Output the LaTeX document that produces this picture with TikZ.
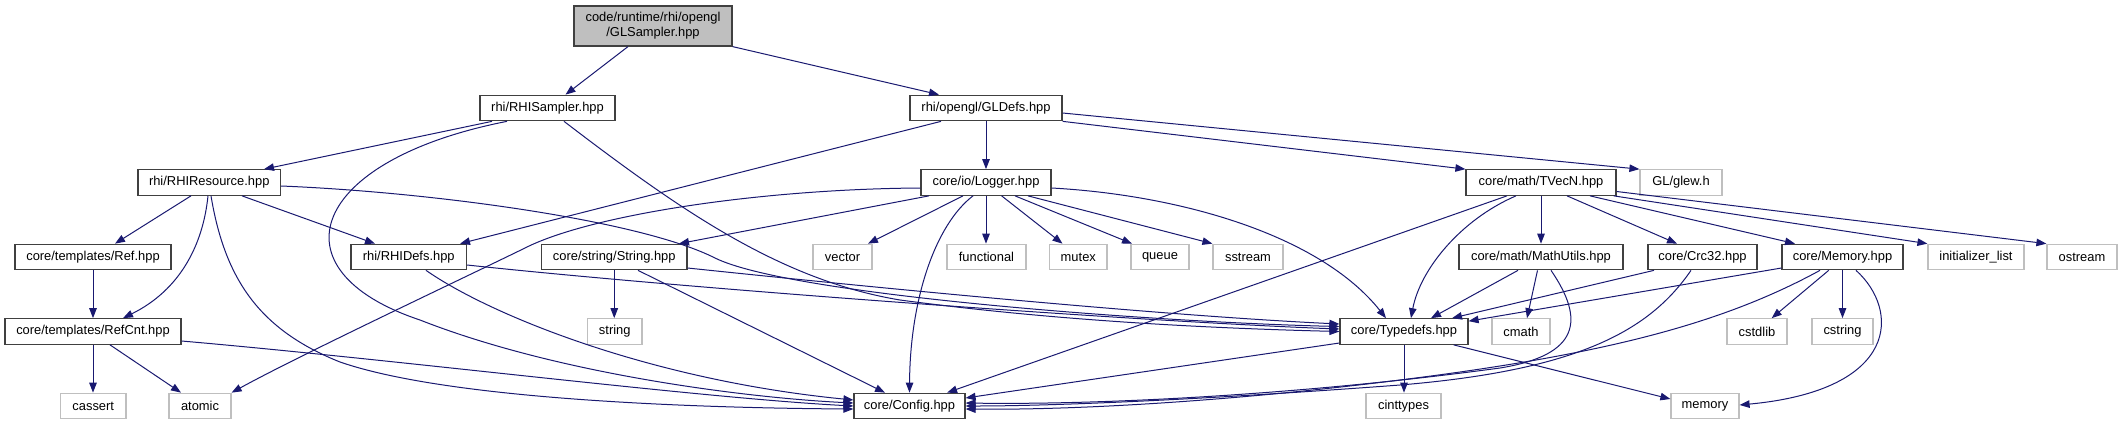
\documentclass[tikz,border=0pt]{standalone}
\usepackage{fontspec}
\setmainfont{Liberation Sans}
\usetikzlibrary{arrows.meta}
\definecolor{edgecol}{HTML}{191970}
\definecolor{boxline}{HTML}{404040}
\definecolor{sysline}{HTML}{BFBFBF}
\definecolor{mainfill}{HTML}{BFBFBF}
\begin{document}
\begin{tikzpicture}[x=1bp,y=-1bp,
  box/.style={draw=boxline, line width=1.2bp, fill=white, inner sep=0pt, minimum height=25.5bp, font=\fontsize{12.9bp}{15bp}\selectfont, text=black},
  sys/.style={box, draw=sysline},
  dep/.style={draw=edgecol, color=edgecol, line width=1bp, -{Triangle[length=10bp,width=7.5bp]}}
]
\useasboundingbox (0,0) rectangle (2123,425);

% nodes
\node[box,fill=mainfill,minimum width=158bp,minimum height=40bp,align=center] (GLS) at (653,26) {code/runtime/rhi/opengl\\/GLSampler.hpp};
\node[box,minimum width=135bp] (RHIS) at (547.5,108) {rhi/RHISampler.hpp};
\node[box,minimum width=152bp] (GLD) at (986,108) {rhi/opengl/GLDefs.hpp};
\node[box,minimum width=142.5bp] (RHIR) at (209.25,182.5) {rhi/RHIResource.hpp};
\node[box,minimum width=130bp] (LOG) at (986,182.5) {core/io/Logger.hpp};
\node[box,minimum width=150bp] (TV) at (1541,182.5) {core/math/TVecN.hpp};
\node[sys,minimum width=82bp] (GLEW) at (1681,182.5) {GL/glew.h};
\node[box,minimum width=156bp] (REF) at (93,257) {core/templates/Ref.hpp};
\node[box,minimum width=115.5bp] (RHID) at (408.75,257) {rhi/RHIDefs.hpp};
\node[box,minimum width=145.5bp] (STR) at (614.25,257) {core/string/String.hpp};
\node[sys,minimum width=59bp] (VEC) at (842.5,257) {vector};
\node[sys,minimum width=79bp] (FUN) at (986.5,257) {functional};
\node[sys,minimum width=57.5bp] (MUT) at (1078.3,257) {mutex};
\node[sys,minimum width=58bp] (QUE) at (1160,257) {queue};
\node[sys,minimum width=70bp] (SST) at (1248,257) {sstream};
\node[box,minimum width=164bp] (MU) at (1541,257) {core/math/MathUtils.hpp};
\node[box,minimum width=109bp] (CRC) at (1702.5,257) {core/Crc32.hpp};
\node[box,minimum width=121bp] (MEM) at (1842.5,257) {core/Memory.hpp};
\node[sys,minimum width=96bp] (INIT) at (1976,257) {initializer\_list};
\node[sys,minimum width=70bp] (OST) at (2082,257) {ostream};
\node[box,minimum width=176bp] (RCNT) at (93,331.5) {core/templates/RefCnt.hpp};
\node[sys,minimum width=54.5bp] (STRG) at (614.75,331.5) {string};
\node[box,minimum width=128bp] (TD) at (1404,331.5) {core/Typedefs.hpp};
\node[sys,minimum width=58bp] (CMATH) at (1521,331.5) {cmath};
\node[sys,minimum width=60bp] (CSTDLIB) at (1757,331.5) {cstdlib};
\node[sys,minimum width=61bp] (CSTRING) at (1842.5,331.5) {cstring};
\node[sys,minimum width=65.5bp] (CASSERT) at (93.25,406) {cassert};
\node[sys,minimum width=62bp] (ATOMIC) at (200,406) {atomic};
\node[box,minimum width=111bp] (CFG) at (909.5,406) {core/Config.hpp};
\node[sys,minimum width=75bp] (CINT) at (1403.5,406) {cinttypes};
\node[sys,minimum width=68bp] (MEMORY) at (1705,406) {memory};

% edges
\draw[dep] ([xshift=-25bp]GLS.south) -- ([xshift=18bp]RHIS.north);
\draw[dep] (GLS.south east) -- ([xshift=-47bp]GLD.north);

\draw[dep] ([xshift=-55.5bp]RHIS.south) -- ([xshift=54.75bp]RHIR.north);
\draw[dep] ([xshift=-40.5bp]RHIS.south) .. controls (310,160) and (270,270) .. (420,320) .. controls (560,375) and (750,398) .. ([yshift=3bp]CFG.west);
\draw[dep] ([xshift=16.5bp]RHIS.south) .. controls (680,210) and (780,280) .. (900,300) .. controls (1050,320) and (1200,328) .. (TD.west);

\draw[dep] ([xshift=-45bp]GLD.south) -- ([xshift=51.25bp]RHID.north);
\draw[dep] (GLD.south) -- (LOG.north);
\draw[dep] (GLD.south east) -- (TV.north west);
\draw[dep] ([yshift=-5bp]GLD.east) -- (GLEW.north west);

\draw[dep] ([xshift=-18.25bp]RHIR.south) -- ([xshift=22bp]REF.north);
\draw[dep] ([xshift=-1.25bp]RHIR.south) .. controls (203,245) and (180,290) .. ([xshift=30bp]RCNT.north);
\draw[dep] ([xshift=1.75bp]RHIR.south) .. controls (225,280) and (260,330) .. (340,362) .. controls (450,400) and (700,408) .. ([yshift=-3bp]CFG.west);
\draw[dep] ([xshift=32.75bp]RHIR.south) -- ([xshift=-33.75bp]RHID.north);
\draw[dep] ([yshift=-3.5bp]RHIR.east) .. controls (430,192) and (640,220) .. (715,258) .. controls (790,295) and (1150,322) .. ([yshift=5bp]TD.west);

\draw[dep] (REF.south) -- (RCNT.north);
\draw[dep] (RCNT.south) -- (RCNT.south |- CASSERT.north);
\draw[dep] ([xshift=17bp]RCNT.south) -- ([xshift=-19bp]ATOMIC.north);
\draw[dep] ([yshift=-9.5bp]RCNT.east) .. controls (400,360) and (700,398) .. (CFG.west);

\draw[dep] ([yshift=-8bp]RHID.east) .. controls (700,290) and (1150,322) .. ([yshift=2.5bp]TD.west);
\draw[dep] ([xshift=17.25bp]RHID.south) .. controls (490,315) and (650,380) .. ([yshift=6bp]CFG.west);

\draw[dep] ([yshift=-5.5bp]LOG.west) .. controls (760,189) and (590,215) .. (525,248) .. controls (470,275) and (300,355) .. (ATOMIC.north east);
\draw[dep] ([xshift=-57bp]LOG.south) -- ([xshift=64.75bp]STR.north);
\draw[dep] ([xshift=-23bp]LOG.south) -- ([xshift=25.5bp]VEC.north);
\draw[dep] (LOG.south) -- (LOG.south |- FUN.north);
\draw[dep] ([xshift=15.6bp]LOG.south) -- ([xshift=-15.8bp]MUT.north);
\draw[dep] ([xshift=29bp]LOG.south) -- ([xshift=-28bp]QUE.north);
\draw[dep] ([xshift=42bp]LOG.south) -- (SST.north west);
\draw[dep] ([xshift=-13bp]LOG.south) .. controls (935,225) and (910,300) .. (CFG.north);
\draw[dep] ([yshift=-5.5bp]LOG.east) .. controls (1180,195) and (1320,235) .. ([xshift=-18bp]TD.north);

\draw[dep] (STR.south) -- (STR.south |- STRG.north);
\draw[dep] ([yshift=-11bp]STR.east) .. controls (850,285) and (1150,315) .. ([yshift=7.5bp]TD.west);
\draw[dep] ([xshift=23.75bp]STR.south) -- ([xshift=-24.5bp]CFG.north);

\draw[dep] (TV.south) -- (MU.north);
\draw[dep] ([xshift=26bp]TV.south) -- ([xshift=-25.5bp]CRC.north);
\draw[dep] ([xshift=49bp]TV.south) -- ([xshift=-47.5bp]MEM.north);
\draw[dep] ([xshift=-3bp]TV.south east) -- (INIT.north west);
\draw[dep] ([yshift=-9bp]TV.east) -- (OST.north west);
\draw[dep] ([xshift=-25bp]TV.south) .. controls (1460,220) and (1420,270) .. ([xshift=7bp]TD.north);
\draw[dep] ([xshift=-34bp]TV.south) -- ([xshift=-18.5bp]CFG.north east);

\draw[dep] ([xshift=-23bp]MU.south) -- ([xshift=27bp]TD.north);
\draw[dep] ([xshift=-3.5bp]MU.south) -- ([xshift=6bp]CMATH.north);
\draw[dep] ([xshift=10bp]MU.south) .. controls (1585,320) and (1580,355) .. (1500,368) .. controls (1300,395) and (1100,405) .. ([yshift=3bp]CFG.east);

\draw[dep] ([xshift=-48.5bp]CRC.south) -- ([xshift=48bp]TD.north);
\draw[dep] ([xshift=-11.5bp]CRC.south) .. controls (1650,330) and (1580,370) .. (1400,385) .. controls (1200,400) and (1050,406) .. (CFG.east);

\draw[dep] ([yshift=-11bp]MEM.west) -- ([yshift=-3bp]TD.north east);
\draw[dep] ([xshift=-13.8bp]MEM.south) -- ([xshift=14.7bp]CSTDLIB.north);
\draw[dep] (MEM.south) -- (CSTRING.north);
\draw[dep] ([xshift=13.5bp]MEM.south) .. controls (1900,310) and (1900,390) .. ([yshift=1bp]MEMORY.east);
\draw[dep] ([xshift=-22.5bp]MEM.south) .. controls (1720,325) and (1600,355) .. (1400,380) .. controls (1200,405) and (1050,410) .. ([yshift=-3bp]CFG.east);

\draw[dep] (TD.south) -- (TD.south |- CINT.north);
\draw[dep] ([xshift=49.6bp]TD.south) -- ([yshift=7bp]MEMORY.west);
\draw[dep] ([yshift=-11.5bp]TD.west) -- ([yshift=8bp]CFG.east);
\end{tikzpicture}
\end{document}
